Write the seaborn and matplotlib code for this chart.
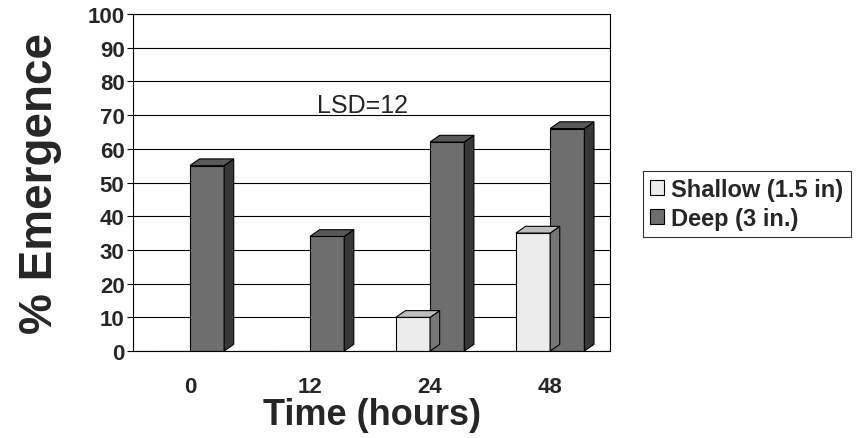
import matplotlib
matplotlib.use("Agg")
import matplotlib.pyplot as plt
import seaborn as sns
import pandas as pd
from matplotlib.patches import Polygon

times = ["0", "12", "24", "48"]
shallow = [0, 0, 10, 35]
deep = [55, 34, 62, 66]
series_names = ["Shallow (1.5 in)", "Deep (3 in.)"]

df = pd.DataFrame({
    "Time": times * 2,
    "Emergence": shallow + deep,
    "Depth": [series_names[0]] * 4 + [series_names[1]] * 4,
})

sns.set_theme(style="white")
plt.rcParams["font.family"] = ["Liberation Sans", "DejaVu Sans"]

fig = plt.figure(figsize=(8.57, 4.39), dpi=100)
ax = fig.add_axes([0.155, 0.198, 0.557, 0.768])

colors = {series_names[0]: "#ececec", series_names[1]: "#6e6e6e"}
sns.barplot(data=df, x="Time", y="Emergence", hue="Depth", palette=colors,
            width=0.57, edgecolor="black", linewidth=0.8, ax=ax, legend=True,
            saturation=1)

# pseudo-3D faces derived from the drawn bars
dx, dy = 0.08, 2.0
for bar in list(ax.patches):
    x0, y0 = bar.get_x(), bar.get_y()
    w, h = bar.get_width(), bar.get_height()
    if h <= 0:
        continue
    fc = bar.get_facecolor()
    dark = tuple(c * 0.5 for c in fc[:3])
    mid = tuple(c * 0.8 for c in fc[:3])
    side = Polygon([(x0 + w, y0), (x0 + w + dx, y0 + dy), (x0 + w + dx, y0 + h + dy), (x0 + w, y0 + h)],
                   closed=True, facecolor=dark, edgecolor="black", linewidth=0.8, zorder=bar.get_zorder())
    top = Polygon([(x0, y0 + h), (x0 + dx, y0 + h + dy), (x0 + w + dx, y0 + h + dy), (x0 + w, y0 + h)],
                  closed=True, facecolor=mid, edgecolor="black", linewidth=0.8, zorder=bar.get_zorder())
    ax.add_patch(side)
    ax.add_patch(top)

ax.set_ylim(0, 100)
ax.set_xlim(-0.475, 3.5)
ax.set_yticks(range(0, 101, 10))
ax.yaxis.grid(True, color="black", linewidth=0.8)
ax.set_axisbelow(True)
for s in ax.spines.values():
    s.set_color("black")
    s.set_linewidth(0.8)

ax.tick_params(axis="y", labelsize=16, length=4, width=0.8, pad=2, direction="out", left=True, color="black")
ax.tick_params(axis="x", labelsize=16, length=0, pad=18)
for lab in ax.get_xticklabels() + ax.get_yticklabels():
    lab.set_fontweight("bold")

ax.set_xlabel("Time (hours)", fontsize=26, fontweight="bold", labelpad=0)
ax.set_ylabel("% Emergence", fontsize=33, fontweight="bold", labelpad=18)

ax.text(1.44, 73, "LSD=12", fontsize=18, ha="center", va="center")

leg = ax.legend(loc="center left", bbox_to_anchor=(1.069, 0.436), frameon=True,
                fancybox=False, edgecolor="black", fontsize=17, handlelength=0.6,
                handleheight=0.6, handletextpad=0.3, borderpad=0.3, labelspacing=0.25,
                borderaxespad=0)
leg.get_frame().set_linewidth(0.8)
for t in leg.get_texts():
    t.set_fontweight("bold")

fig.savefig("out.png", dpi=100, facecolor="white")
